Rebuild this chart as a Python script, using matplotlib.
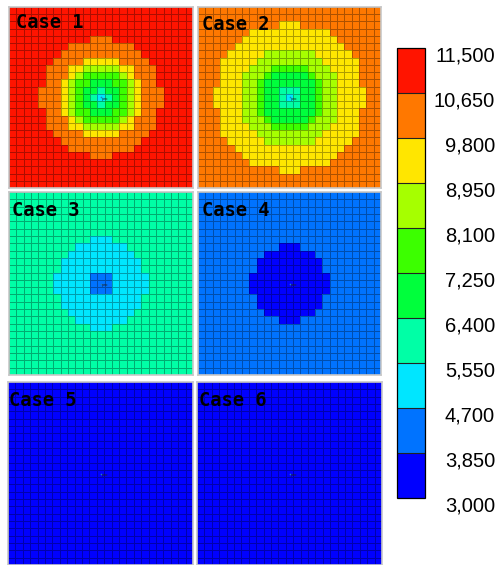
import numpy as np
import matplotlib
matplotlib.use("Agg")
import matplotlib.pyplot as plt
from matplotlib.colors import ListedColormap, BoundaryNorm
from matplotlib.cm import ScalarMappable
import matplotlib.transforms as mtransforms

# colour classes (boundaries of the legend)
levels = [3000, 3850, 4700, 5550, 6400, 7250, 8100, 8950, 9800, 10650, 11500]
level_colors = ['#0000FF', '#0073FF', '#00E6FF', '#00FFA6', '#00FF3C',
                '#3CFF00', '#A6FF00', '#FFE600', '#FF7800', '#FF1400']

case_names = ['Case 1', 'Case 2', 'Case 3', 'Case 4', 'Case 5', 'Case 6']
n_cells = 25
well_cell = 12

# each case: background class + rings (class, half width of the ring per row offset from the well)
case1_background = 9
case1_rings = [(8, [8, 8, 7, 7, 7, 6, 5, 4, 1]),
               (7, [5, 5, 5, 4, 4, 2]),
               (6, [4, 4, 4, 3, 2]),
               (5, [3, 3, 3, 2]),
               (4, [2, 2, 1]),
               (3, [1, 0]),
               (2, [0])]
case2_background = 8
case2_rings = [(7, [10, 10, 9, 9, 9, 9, 8, 7, 6, 5, 1]),
               (6, [6, 6, 6, 6, 5, 4, 3]),
               (5, [4, 4, 4, 3, 2]),
               (4, [3, 3, 3, 2]),
               (3, [1, 1]),
               (2, [0])]
case3_background = 3
case3_rings = [(2, [6, 6, 5, 5, 4, 3, 1]),
               (1, [1, 1])]
case4_background = 1
case4_rings = [(0, [5, 5, 4, 4, 3, 1])]
case5_background = 0
case5_rings = []
case6_background = 0
case6_rings = []

# panel boxes in pixels: left, top, width, height
panel_boxes = [(9, 7, 184, 181), (198, 7, 183, 181),
               (9, 192, 184, 183), (198, 192, 183, 183),
               (8, 382, 185, 183), (197, 382, 185, 183)]
label_pos = [(16.5, 28), (201.5, 29.5), (12.5, 215.5), (201.5, 216.5), (9, 405.5), (199, 406.5)]

W, H = 497, 565


def build_grid(background, rings):
    cls = np.full((n_cells, n_cells), background)
    for c, hw in rings:
        for dy, w in enumerate(hw):
            for r in {well_cell - dy, well_cell + dy}:
                cls[r, well_cell - w:well_cell + w + 1] = c
    return np.array(levels)[cls] + 425


grids = [build_grid(case1_background, case1_rings),
         build_grid(case2_background, case2_rings),
         build_grid(case3_background, case3_rings),
         build_grid(case4_background, case4_rings),
         build_grid(case5_background, case5_rings),
         build_grid(case6_background, case6_rings)]

cmap = ListedColormap(level_colors)
norm = BoundaryNorm(levels, cmap.N)

fig = plt.figure(figsize=(W / 100, H / 100), dpi=100)

for name, grid, (x0, y0, w, h), (tx, ty) in zip(case_names, grids, panel_boxes, label_pos):
    ax = fig.add_axes([x0 / W, 1 - (y0 + h) / H, w / W, h / H])
    ax.pcolormesh(np.arange(n_cells + 1), np.arange(n_cells + 1), grid,
                  cmap=cmap, norm=norm, edgecolors=(0, 0, 0, 0.32), linewidth=0.5)
    ax.set_xlim(0, n_cells)
    ax.set_ylim(n_cells, 0)
    ax.set_xticks([])
    ax.set_yticks([])
    for sp in ax.spines.values():
        sp.set_color('#C8C8C8')
        sp.set_linewidth(1.2)
    # well marker
    ax.plot(well_cell + 0.5, well_cell + 0.5, 'o', ms=1.2, color='#2080C0', mew=0)
    ax.text(well_cell + 0.65, well_cell + 0.85, 'pro', fontsize=2.8, color='#202020')
    fig.text(tx / W, 1 - ty / H, name, fontsize=13.5, fontweight='bold',
             family='DejaVu Sans Mono', color='black', va='baseline', ha='left')

# legend bar
cax = fig.add_axes([397 / W, 1 - 498 / H, 28 / W, 450 / H])
cb = fig.colorbar(ScalarMappable(norm=norm, cmap=cmap), cax=cax, ticks=levels, drawedges=True)
cb.outline.set_linewidth(0.9)
cb.dividers.set_color('#222222')
cb.dividers.set_linewidth(0.8)
cax.set_yticklabels([f"{v:,}" for v in levels])
cax.tick_params(length=0, pad=50.4, labelsize=14.5)
shift = mtransforms.ScaledTranslation(0, -6 / 100, fig.dpi_scale_trans)
for lab in cax.get_yticklabels():
    lab.set_horizontalalignment('right')
    lab.set_family('Liberation Sans')
    lab.set_transform(lab.get_transform() + shift)

fig.savefig('out.png', dpi=100)
